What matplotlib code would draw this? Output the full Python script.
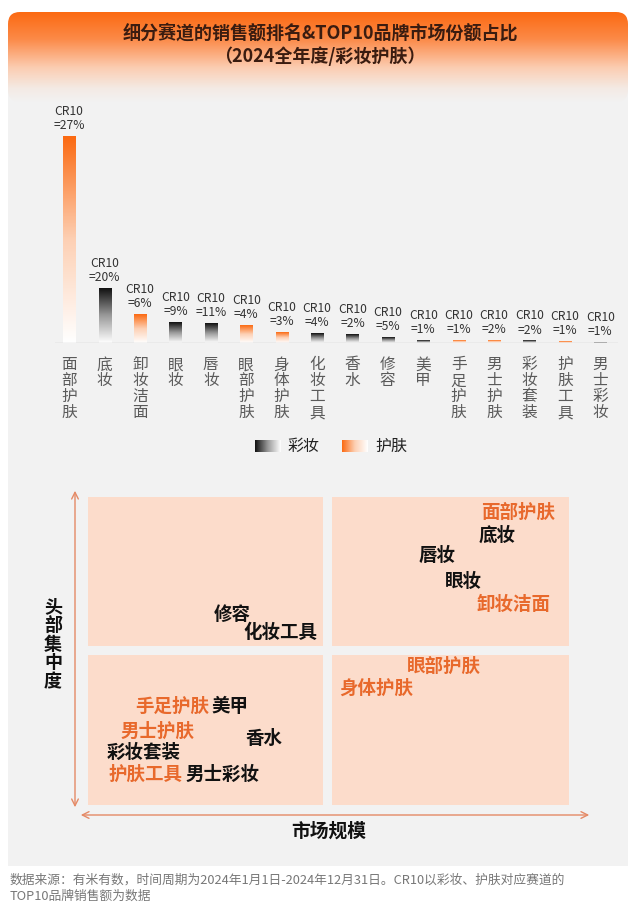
import numpy as np
import matplotlib
matplotlib.use("Agg")
from matplotlib import pyplot as plt
from matplotlib.colors import LinearSegmentedColormap
from matplotlib.patches import Rectangle, FancyBboxPatch

plt.rcParams['font.family'] = ['Noto Sans CJK SC', 'DejaVu Sans']

# ---- data ----
categories = ["面部护肤", "底妆", "卸妆洁面", "眼妆", "唇妆", "眼部护肤", "身体护肤", "化妆工具",
              "香水", "修容", "美甲", "手足护肤", "男士护肤", "彩妆套装", "护肤工具", "男士彩妆"]
sales_index = [207, 55, 29, 21, 20, 18, 11, 10, 9, 6, 3, 3, 3, 2.5, 1.5, 1]
cr10 = [27, 20, 6, 9, 11, 4, 3, 4, 2, 5, 1, 1, 2, 2, 1, 1]
kind = ["护肤", "彩妆", "护肤", "彩妆", "彩妆", "护肤", "护肤", "彩妆",
        "彩妆", "彩妆", "彩妆", "护肤", "护肤", "彩妆", "护肤", "彩妆"]

# quadrant map: market scale (x) vs head concentration (y), 0-100
quad_names = ["面部护肤", "底妆", "唇妆", "眼妆", "卸妆洁面", "修容", "化妆工具", "眼部护肤",
              "身体护肤", "手足护肤", "美甲", "男士护肤", "香水", "彩妆套装", "护肤工具", "男士彩妆"]
quad_x = [89.5, 85, 72.5, 78, 88.5, 30, 40, 74, 60, 17.5, 29.5, 14.5, 36.5, 11.5, 12, 28]
quad_y = [95, 87.5, 81, 72.5, 65, 62, 56, 45, 38, 32, 32, 24, 21.5, 17, 10, 10]
quad_kind = ["护肤", "彩妆", "彩妆", "彩妆", "护肤", "彩妆", "彩妆", "护肤",
             "护肤", "护肤", "彩妆", "护肤", "彩妆", "彩妆", "护肤", "彩妆"]

ORANGE = "#fb6a12"
LABEL_ORANGE = "#e8692c"
PANEL = "#f2f2f2"
PEACH = "#fcdccb"

W, H = 637, 905
fig = plt.figure(figsize=(W / 100, H / 100), dpi=100)
fig.patch.set_facecolor("white")


def px_axes(x0, y0, x1, y1, z=1):
    return fig.add_axes([x0 / W, 1 - y1 / H, (x1 - x0) / W, (y1 - y0) / H], zorder=z)


# background in pixel coords
bg = px_axes(0, 0, W, H, z=0)
bg.set_xlim(0, W)
bg.set_ylim(H, 0)
bg.axis("off")
bg.add_patch(Rectangle((8, 30), 620, 836, color=PANEL, lw=0))
hdr_clip = FancyBboxPatch((8, 12), 620, 90, boxstyle="round,pad=0,rounding_size=12",
                          fc="none", ec="none")
bg.add_patch(hdr_clip)
hdr_cmap = LinearSegmentedColormap.from_list(
    "hdr", [(0, ORANGE), (0.3, "#fc8a48"), (0.62, "#fbcdb2"), (0.85, "#f4eae4"), (1, PANEL)])
grad = np.linspace(0, 1, 200).reshape(-1, 1)
im = bg.imshow(grad, cmap=hdr_cmap, extent=(8, 628, 102, 12), aspect="auto", zorder=1)
im.set_clip_path(hdr_clip)
bg.text(320, 33, "细分赛道的销售额排名&TOP10品牌市场份额占比", ha="center", va="center",
        fontsize=13, fontweight="bold", color="#3a1c10", zorder=3)
bg.text(320, 56, "（2024全年度/彩妆护肤）", ha="center", va="center",
        fontsize=13, fontweight="bold", color="#3a1c10", zorder=3)

# ---- bar chart ----
cmaps = {
    "护肤": LinearSegmentedColormap.from_list("sk", ["#ffffff", "#fdd0b4", ORANGE]),
    "彩妆": LinearSegmentedColormap.from_list("mk", ["#ffffff", "#9a9a9a", "#111111"]),
}
ax = px_axes(55, 100, 618, 343, z=2)
ax.set_xlim(-0.4, 15.5)
ax.set_ylim(0, 243)
ax.axis("off")
bw = 0.34
for i, (cat, v, c, k) in enumerate(zip(categories, sales_index, cr10, kind)):
    ax.imshow(grad[::-1], cmap=cmaps[k], extent=(i - bw / 2, i + bw / 2, 0, v),
              aspect="auto", zorder=2)
    ax.text(i, v + 4, f"CR10\n={c}%", ha="center", va="bottom", fontsize=8.7,
            color="#333333", linespacing=1.12)
    ax.text(i, -0.055, "\n".join(cat), ha="center", va="top", fontsize=11.3,
            color="#5a5a5a", linespacing=0.92, transform=ax.get_xaxis_transform(), clip_on=False)
ax.plot([-0.4, 15.5], [0, 0], color="#cccccc", lw=1, zorder=3)
ax.set_xlim(-0.4, 15.5)
ax.set_ylim(0, 243)

# legend
for lx, k in [(255, "彩妆"), (342, "护肤")]:
    bg.imshow(grad.reshape(1, -1)[:, ::-1], cmap=cmaps[k], extent=(lx, lx + 26, 452, 440),
              aspect="auto", zorder=2)
    bg.text(lx + 33, 446, k, ha="left", va="center", fontsize=11.5, color="#222222")
bg.set_xlim(0, W)
bg.set_ylim(H, 0)

# ---- quadrant map ----
qa = px_axes(88, 497, 569, 805, z=2)
qa.set_xlim(0, 100)
qa.set_ylim(0, 100)
qa.axis("off")
for (x0, y0, w, h) in [(0, 51.6, 48.9, 48.4), (50.8, 51.6, 49.2, 48.4),
                       (0, 0, 48.9, 48.7), (50.8, 0, 49.2, 48.7)]:
    qa.add_patch(Rectangle((x0, y0), w, h, color=PEACH, lw=0))
for name, x, y, k in zip(quad_names, quad_x, quad_y, quad_kind):
    qa.text(x, y, name, ha="center", va="center", fontsize=13.3, fontweight="bold",
            color=LABEL_ORANGE if k == "护肤" else "#111111")

# axes arrows
acol = "#e58a66"
bg.annotate("", xy=(75, 488), xytext=(75, 810),
            arrowprops=dict(arrowstyle="<->", color=acol, lw=1, mutation_scale=12))
bg.annotate("", xy=(592, 815), xytext=(78, 815),
            arrowprops=dict(arrowstyle="<->", color=acol, lw=1, mutation_scale=12))
bg.text(53, 644, "\n".join("头部集中度"), ha="center", va="center", fontsize=13,
        fontweight="bold", color="#111111", linespacing=0.98)
bg.text(329, 831, "市场规模", ha="center", va="center", fontsize=13.5,
        fontweight="bold", color="#111111")

# footnote
bg.text(10, 880, "数据来源：有米有数，时间周期为2024年1月1日-2024年12月31日。CR10以彩妆、护肤对应赛道的",
        ha="left", va="center", fontsize=9.2, color="#777777")
bg.text(10, 896, "TOP10品牌销售额为数据", ha="left", va="center", fontsize=9.2, color="#777777")

fig.savefig("out.png", dpi=100, facecolor="white")
